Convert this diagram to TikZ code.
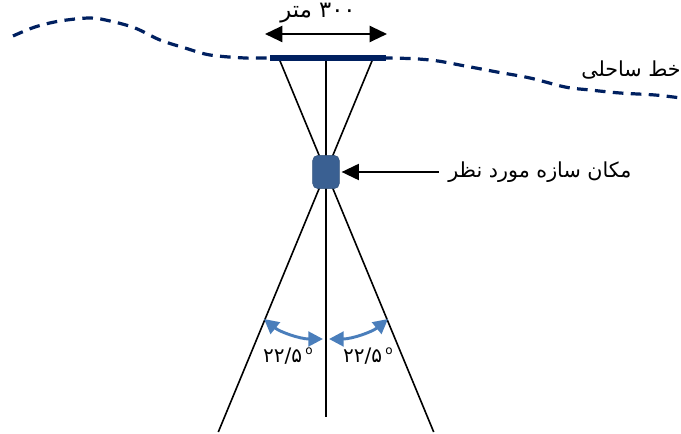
\documentclass[tikz,border=0pt]{standalone}
\usepackage{fontspec}
\newfontfamily\arabicfont[Script=Arabic]{DejaVu Sans}
\TeXXeTstate=1
\usetikzlibrary{arrows.meta}
\definecolor{coastblue}{RGB}{0,32,96}
\definecolor{sitefill}{RGB}{58,96,146}
\definecolor{anglecol}{RGB}{74,126,187}
\tikzset{
  coast/.style = {coastblue, line width=2.4pt, dash pattern=on 8pt off 5.5pt},
  beach/.style = {coastblue, line width=3.8pt},
  ray/.style = {black, line width=1.2pt},
  site/.style = {
    rectangle, rounded corners=4pt, fill=sitefill, draw=sitefill!85!black,
    minimum width=20pt, minimum height=25pt, inner sep=0pt,
  },
  farsi/.style = {font=\arabicfont\fontsize{15.5}{18}\selectfont, inner sep=0pt},
  degtext/.style = {font=\arabicfont\fontsize{15}{17}\selectfont, inner sep=0pt},
  arrow/.style = {line width=1.6pt, -{Triangle[length=13pt,width=12pt]}},
  widtharrow/.style = {line width=1.6pt,
    {Triangle[length=13pt,width=12pt]}-{Triangle[length=13pt,width=12pt]}},
  angarrow/.style = {anglecol, line width=2.2pt,
    {Triangle[length=11pt,width=11pt]}-{Triangle[length=11pt,width=11pt]}},
}

\begin{document}
\begin{tikzpicture}[x=0.75pt, y=-0.75pt]
    \useasboundingbox (0,0) rectangle (681,434);

    % --- Coastline ---
    \draw[coast] plot[smooth, tension=0.55] coordinates {
      (13,36) (35,27) (60,21) (90,18) (110,21) (135,28) (160,40) (185,48)
      (210,55) (245,58) (270,58) (385,58) (430,60) (465,66) (497,72)
      (530,78) (565,87) (590,90) (620,93) (655,95) (681,98)};
    \node[farsi, anchor=east] (coasttxt) at (681,70) {\beginR خط ساحلی\endR};

    % --- Coordinates ---
    \coordinate (c)    at (326,172);
    \coordinate (bl)   at (270,58);
    \coordinate (br)   at (386,58);
    \coordinate (rtl)  at (278.8,58);
    \coordinate (rtr)  at (373.2,58);
    \coordinate (rbl)  at (218.3,432);
    \coordinate (rbr)  at (433.7,432);
    \coordinate (vtop) at (326,58);
    \coordinate (vbot) at (326,417);

    % --- Rays ---
    \draw[ray] (rtl) -- (rbr);
    \draw[ray] (rtr) -- (rbl);
    \draw[ray] (vtop) -- (vbot);

    % --- Beach width ---
    \draw[beach] (bl) -- (br);
    \coordinate (wl) at (265,34);
    \coordinate (wr) at (387,34);
    \draw[widtharrow] (wl) -- (wr);
    \node[farsi, font=\arabicfont\fontsize{17}{19}\selectfont] (widthtxt) at (318,13) {\beginR ۳۰۰ متر\endR};

    % --- Site ---
    \node[site] (site) at (c) {};
    \node[farsi, anchor=west] (sitetxt) at (448,172) {\beginR مکان سازه مورد نظر\endR};
    \draw[arrow] ([xshift=-7pt]sitetxt.west) -- ([xshift=1.5pt]site.east);

    % --- Angles ---
    \coordinate (al1) at (264,319);
    \coordinate (al2) at (323,339);
    \coordinate (ar1) at (329,339);
    \coordinate (ar2) at (388,319);
    \draw[angarrow] (al1) .. controls (280,332) and (300,339) .. (al2);
    \draw[angarrow] (ar1) .. controls (352,339) and (372,332) .. (ar2);
    \node[degtext] (angl) at (288,356) {۲۲/۵\,\raisebox{6pt}{\small o}};
    \node[degtext] (angr) at (368,356) {۲۲/۵\,\raisebox{6pt}{\small o}};
\end{tikzpicture}
\end{document}
